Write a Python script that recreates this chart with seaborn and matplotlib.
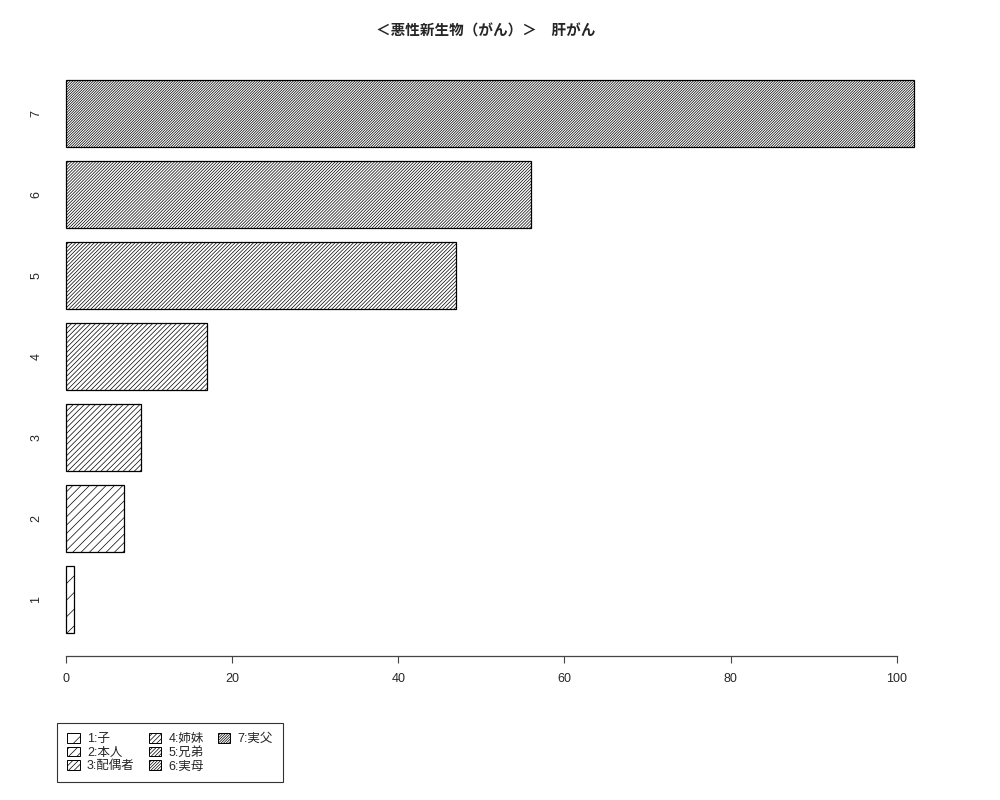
import matplotlib
matplotlib.use("Agg")
import matplotlib.pyplot as plt
import seaborn as sns
import pandas as pd
from matplotlib.patches import Patch

# data
categories = ["1", "2", "3", "4", "5", "6", "7"]
counts = [1, 7, 9, 17, 47, 56, 102]
legend_labels = ["1:子", "2:本人", "3:配偶者", "4:姉妹", "5:兄弟", "6:実母", "7:実父"]
hatches = ["/" * 2, "/" * 4, "/" * 6, "/" * 7, "/" * 9, "/" * 11, "/" * 13]
title = "＜悪性新生物（がん）＞　肝がん"

sns.set_style("white")
plt.rcParams['font.family'] = ['Liberation Sans', 'Noto Sans CJK JP', 'DejaVu Sans']
plt.rcParams['hatch.linewidth'] = 0.5
plt.rcParams['hatch.color'] = 'black'

df = pd.DataFrame({"cat": categories, "n": counts})
order = categories[::-1]

fig = plt.figure(figsize=(10, 8), dpi=100)
ax = fig.add_axes([0.045, 0.18, 0.9025, 0.749])

sns.barplot(data=df, x="n", y="cat", order=order, orient="h", color="white",
            edgecolor="black", linewidth=0.9, width=0.83, saturation=1, ax=ax)

# hatch each bar by its category
for patch, cat in zip(ax.patches, order):
    patch.set_hatch(hatches[categories.index(cat)])
    patch.set_facecolor("white")

ax.set_xlim(-2.5, 106.08)
ax.set_ylim(6.70, -0.70)
ax.set_xlabel("")
ax.set_ylabel("")
fig.text(0.486, 0.962, title, fontsize=10.5, fontweight="bold", ha="center", va="center",
         family=['Noto Sans CJK JP', 'DejaVu Sans'])

for s in ["top", "right", "left"]:
    ax.spines[s].set_visible(False)
ax.spines["bottom"].set_bounds(0, 100)
ax.spines["bottom"].set_color("#444444")
ax.spines["bottom"].set_linewidth(0.9)
ax.set_xticks([0, 20, 40, 60, 80, 100])
ax.tick_params(axis="x", length=5, width=0.8, color="#444444", pad=7, labelsize=9, bottom=True)
ax.tick_params(axis="y", length=0, pad=2, labelsize=9, left=False)
for lab in ax.get_yticklabels():
    lab.set_rotation(90)
    lab.set_va("center")

handles = [Patch(facecolor="white", edgecolor="black", hatch=h, linewidth=0.7) for h in hatches]
labels = list(legend_labels)
# two blank slots so the third column holds only the last entry
blank = Patch(facecolor="none", edgecolor="none")
handles += [blank, blank]
labels += ["", ""]
leg = fig.legend(handles, labels, ncol=3, loc="lower left",
                 bbox_to_anchor=(0.057, 0.022), fontsize=9, frameon=True,
                 fancybox=False, edgecolor="black", handlelength=1.0, handleheight=0.8,
                 handletextpad=0.6, columnspacing=1.1, labelspacing=0.12,
                 borderpad=0.8, borderaxespad=0)
leg.get_frame().set_linewidth(0.8)

fig.savefig("out.png", dpi=100)
